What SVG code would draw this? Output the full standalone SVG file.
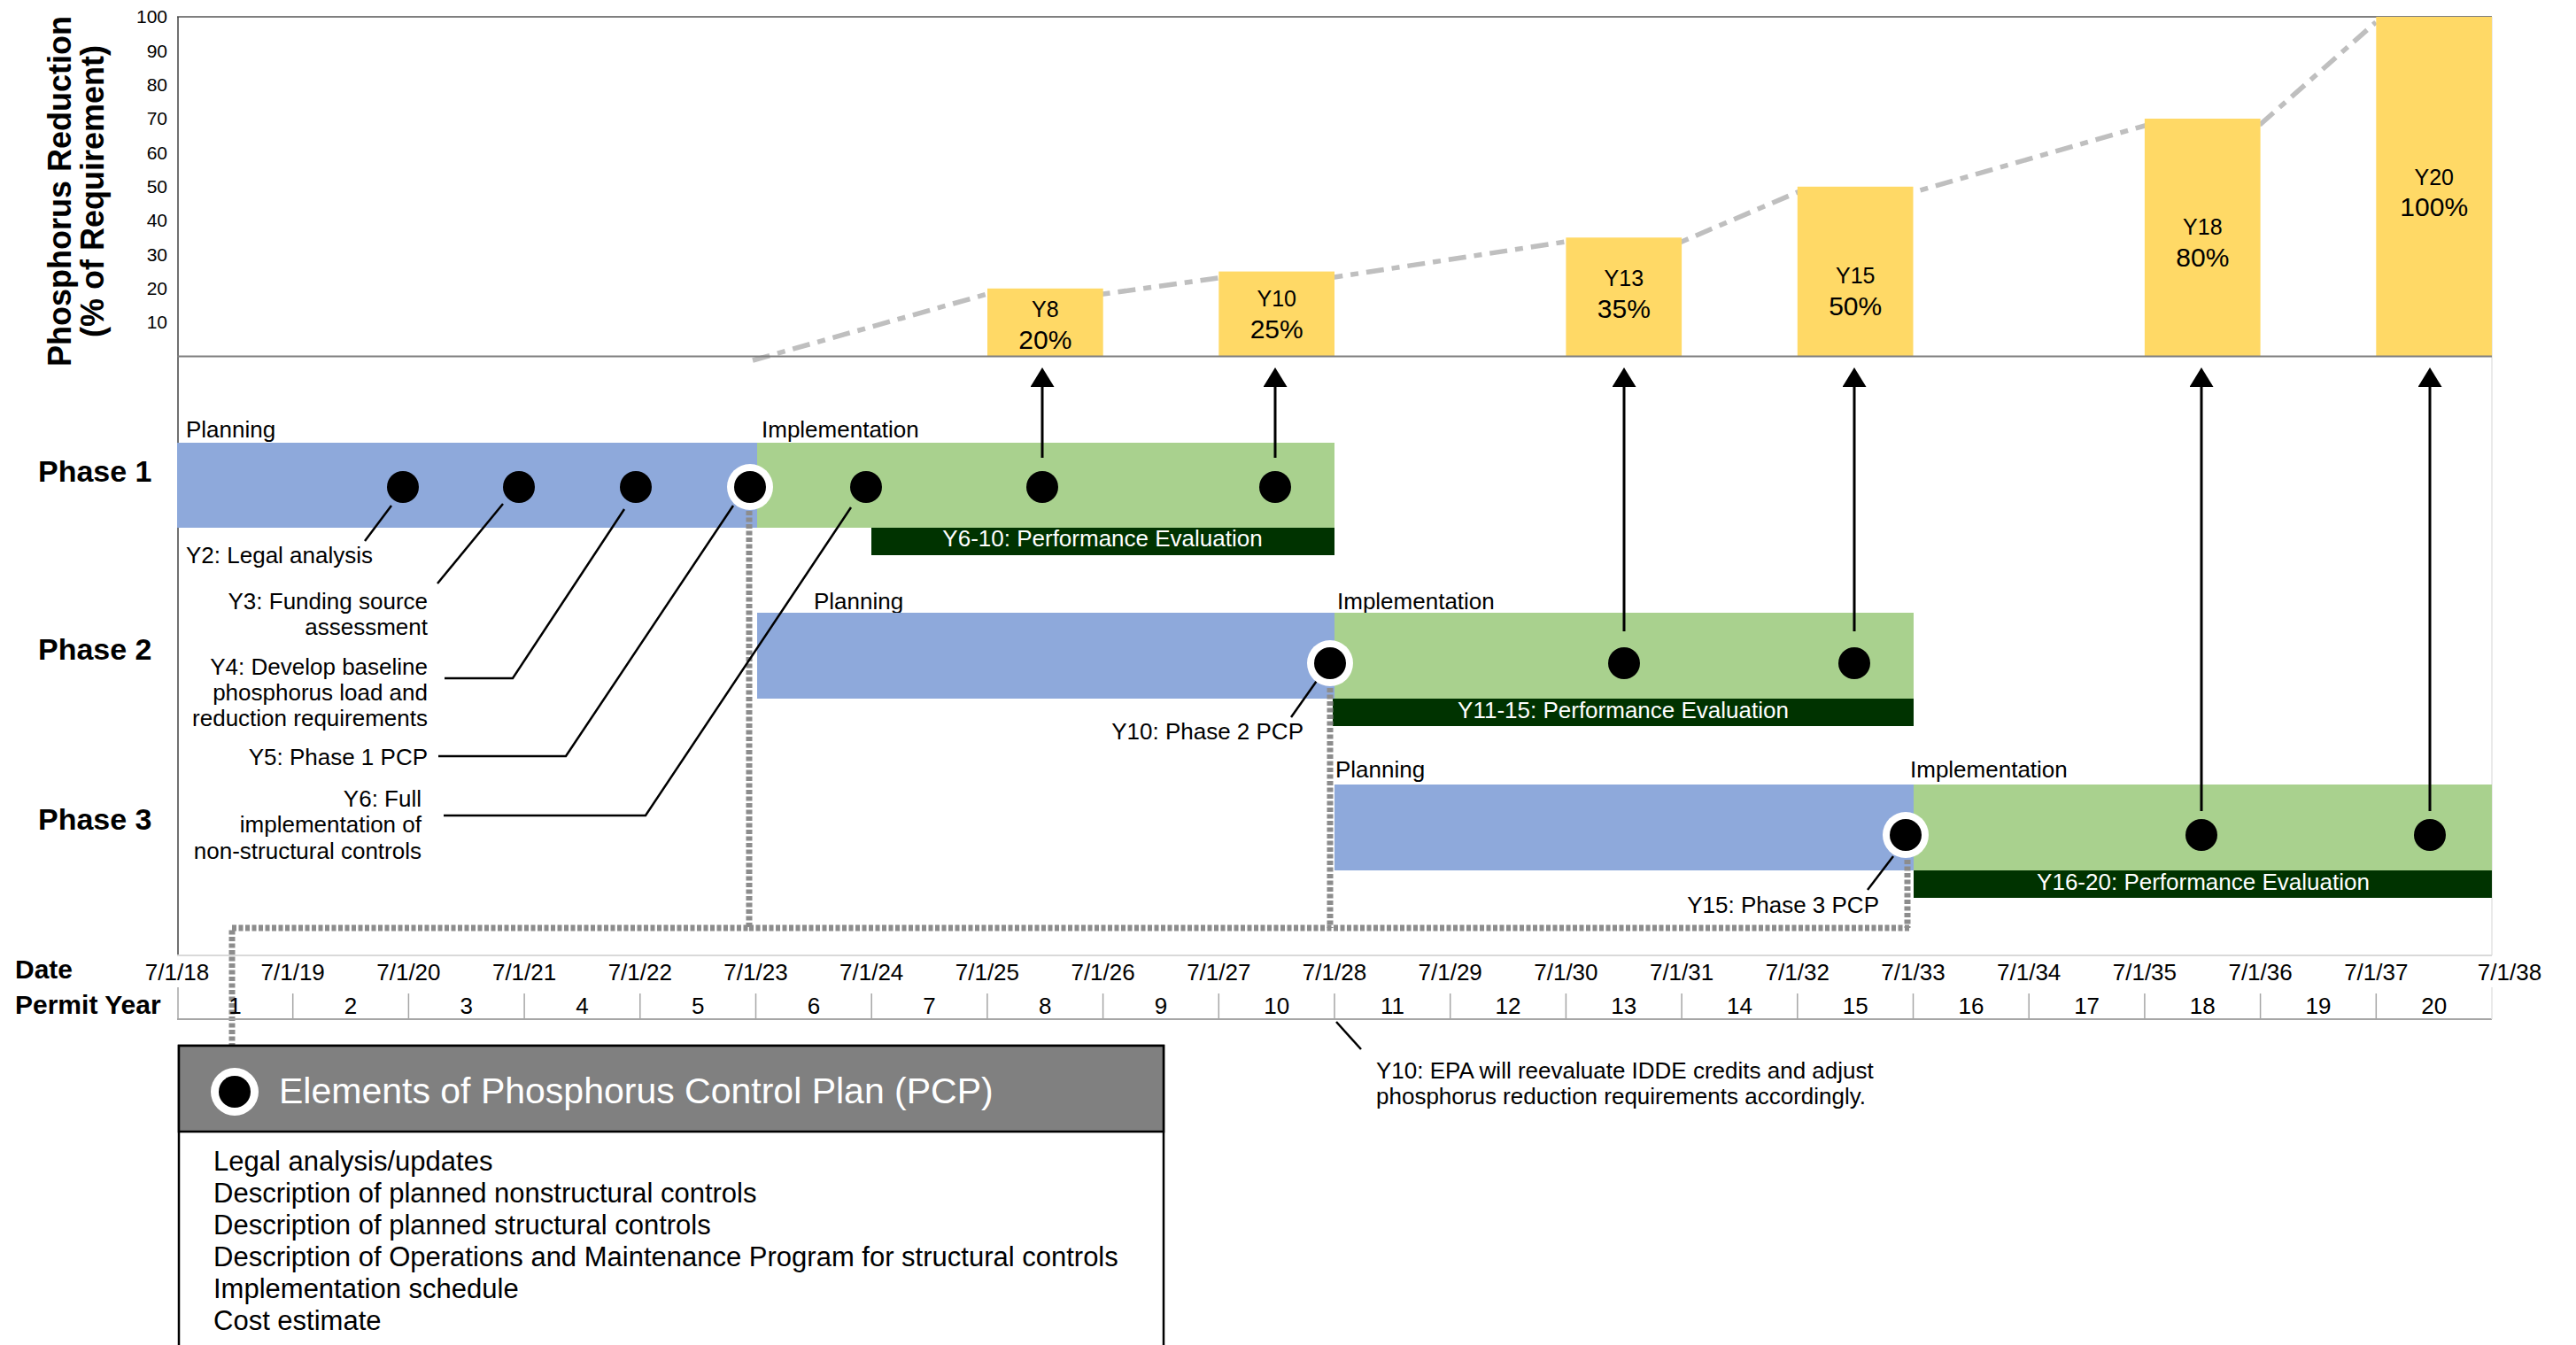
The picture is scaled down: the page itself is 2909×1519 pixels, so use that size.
<svg xmlns="http://www.w3.org/2000/svg" width="2909" height="1519" viewBox="0 0 2909 1519">
<style>
text{font-family:"Liberation Sans",Arial,sans-serif;fill:#000}
.t26{font-size:26px}
.bold{font-weight:bold}
.tick{font-size:21px;text-anchor:end}
.date{font-size:26px;text-anchor:middle}
.yr{font-size:26px;text-anchor:middle}
.ylab{font-size:25px;text-anchor:middle}
.pct{font-size:30px;text-anchor:middle}
.eval{font-size:26px;fill:#fff;text-anchor:middle}
.end{text-anchor:end}
.plan{fill:#8EA9DB}
.impl{fill:#A9D18E}
.ev{fill:#003300}
.bar{fill:#FFD966}
.dot{fill:#000}
.ring{fill:#fff}
.call{stroke:#000;stroke-width:2.5;fill:none}
.arr{stroke:#000;stroke-width:3;fill:none}
.guide{stroke:#8C8C8C;stroke-width:7;stroke-dasharray:5 2.5;fill:none}
.axis{stroke:#7F7F7F;stroke-width:2;fill:none}
.sep{stroke:#A6A6A6;stroke-width:1.5}
.item{font-size:31px}
</style>
<defs>
<marker id="ah" markerUnits="userSpaceOnUse" markerWidth="22" markerHeight="27" refX="0" refY="13.5" orient="auto"><path d="M0,0 L22,13.5 L0,27 z" fill="#000"/></marker>
</defs>

<g id="chart">
<polyline points="850,407 1115,332 1246,332 1376,314 1507,313 1768,273 1899,273 2030,217 2161,217 2422,142 2553,140 2683,25" fill="none" stroke="#BFBFBF" stroke-width="5.5" stroke-dasharray="20 9 9 9"/>
<line class="axis" x1="200" y1="19" x2="2814" y2="19"/>
<line x1="2814" y1="19" x2="2814" y2="1079" stroke="#E3E3E3" stroke-width="1.5"/>
<line x1="201" y1="19" x2="201" y2="1079" stroke="#404040" stroke-width="1.5"/>
<g id="ticks">
<text class="tick" x="189" y="26">100</text>
<text class="tick" x="189" y="64.5">90</text>
<text class="tick" x="189" y="103">80</text>
<text class="tick" x="189" y="141">70</text>
<text class="tick" x="189" y="179.5">60</text>
<text class="tick" x="189" y="218">50</text>
<text class="tick" x="189" y="256">40</text>
<text class="tick" x="189" y="294.5">30</text>
<text class="tick" x="189" y="333">20</text>
<text class="tick" x="189" y="371">10</text>
</g>
<g id="ytitle" transform="translate(80,216) rotate(-90)">
<text class="bold" style="font-size:36px;text-anchor:middle" x="0" y="0">Phosphorus Reduction</text>
<text class="bold" style="font-size:36px;text-anchor:middle" x="0" y="37">(% of Requirement)</text>
</g>
<g id="bar-y8"><rect class="bar" x="1115" y="325.8" width="130.7" height="76.7"/><text class="ylab" x="1180.3" y="358">Y8</text><text class="pct" x="1180.3" y="394">20%</text></g>
<g id="bar-y10"><rect class="bar" x="1376.3" y="306.6" width="130.7" height="95.9"/><text class="ylab" x="1441.7" y="346">Y10</text><text class="pct" x="1441.7" y="382">25%</text></g>
<g id="bar-y13"><rect class="bar" x="1768.4" y="268.3" width="130.7" height="134.2"/><text class="ylab" x="1833.8" y="323">Y13</text><text class="pct" x="1833.8" y="359">35%</text></g>
<g id="bar-y15"><rect class="bar" x="2029.8" y="210.8" width="130.7" height="191.7"/><text class="ylab" x="2095.2" y="320">Y15</text><text class="pct" x="2095.2" y="356">50%</text></g>
<g id="bar-y18"><rect class="bar" x="2421.9" y="134" width="130.7" height="268.5"/><text class="ylab" x="2487.3" y="265">Y18</text><text class="pct" x="2487.3" y="301">80%</text></g>
<g id="bar-y20"><rect class="bar" x="2683.3" y="19" width="130.7" height="383.5"/><text class="ylab" x="2748.7" y="209">Y20</text><text class="pct" x="2748.7" y="244">100%</text></g>
<line class="axis" x1="200" y1="402.5" x2="2814" y2="402.5"/>
</g>

<g id="phase1">
<text class="bold" style="font-size:34px" x="43" y="544">Phase 1</text>
<text class="t26" x="210" y="494">Planning</text>
<text class="t26" x="860" y="494">Implementation</text>
<rect class="plan" x="200" y="500" width="655" height="96"/>
<rect class="impl" x="855" y="500" width="652" height="96"/>
<rect class="ev" x="984" y="596" width="523" height="31"/>
<text class="eval" x="1245" y="617">Y6-10: Performance Evaluation</text>
</g>
<g id="phase2">
<text class="bold" style="font-size:34px" x="43" y="745">Phase 2</text>
<text class="t26" x="919" y="688">Planning</text>
<text class="t26" x="1510" y="688">Implementation</text>
<rect class="plan" x="855" y="692" width="652" height="97"/>
<rect class="impl" x="1507" y="692" width="654" height="97"/>
<rect class="ev" x="1505" y="789" width="656" height="31"/>
<text class="eval" x="1833" y="811">Y11-15: Performance Evaluation</text>
</g>
<g id="phase3">
<text class="bold" style="font-size:34px" x="43" y="937">Phase 3</text>
<text class="t26" x="1508" y="878">Planning</text>
<text class="t26" x="2157" y="878">Implementation</text>
<rect class="plan" x="1507" y="886" width="654" height="97"/>
<rect class="impl" x="2161" y="886" width="653" height="97"/>
<rect class="ev" x="2161" y="983" width="653" height="31"/>
<text class="eval" x="2488" y="1005">Y16-20: Performance Evaluation</text>
</g>

<g id="guides">
<polyline class="guide" points="846,577 846,1048 262,1048 262,1181"/>
<line class="guide" x1="1502" y1="777" x2="1502" y2="1048"/>
<line class="guide" x1="2154" y1="971" x2="2154" y2="1048"/>
<line class="guide" x1="846" y1="1048" x2="2157" y2="1048"/>
</g>

<g id="connectors">
<line class="arr" x1="1177" y1="517" x2="1177" y2="437" marker-end="url(#ah)"/>
<line class="arr" x1="1440" y1="517" x2="1440" y2="437" marker-end="url(#ah)"/>
<line class="arr" x1="1834" y1="713" x2="1834" y2="437" marker-end="url(#ah)"/>
<line class="arr" x1="2094" y1="713" x2="2094" y2="437" marker-end="url(#ah)"/>
<line class="arr" x1="2486" y1="916" x2="2486" y2="437" marker-end="url(#ah)"/>
<line class="arr" x1="2744" y1="916" x2="2744" y2="437" marker-end="url(#ah)"/>
<polyline class="call" points="442,571 412,611"/>
<polyline class="call" points="568,569 494,659"/>
<polyline class="call" points="705,575 579,766 502,766"/>
<polyline class="call" points="828,571 639,854 495,854"/>
<polyline class="call" points="961,573 729,921 501,921"/>
<polyline class="call" points="1489,766 1458,810"/>
<polyline class="call" points="2138,967 2109,1005"/>
<polyline class="call" points="1509,1154 1537,1185"/>
</g>

<g id="milestones">
<circle class="dot" cx="455" cy="550" r="18"/>
<circle class="dot" cx="586" cy="550" r="18"/>
<circle class="dot" cx="718" cy="550" r="18"/>
<circle class="ring" cx="847" cy="550" r="26"/><circle class="dot" cx="847" cy="550" r="18"/>
<circle class="dot" cx="978" cy="550" r="18"/>
<circle class="dot" cx="1177" cy="550" r="18"/>
<circle class="dot" cx="1440" cy="550" r="18"/>
<circle class="ring" cx="1502" cy="749" r="26"/><circle class="dot" cx="1502" cy="749" r="18"/>
<circle class="dot" cx="1834" cy="749" r="18"/>
<circle class="dot" cx="2094" cy="749" r="18"/>
<circle class="ring" cx="2152" cy="943" r="26"/><circle class="dot" cx="2152" cy="943" r="18"/>
<circle class="dot" cx="2486" cy="943" r="18"/>
<circle class="dot" cx="2744" cy="943" r="18"/>
</g>

<g id="callout-labels">
<text class="t26" x="210" y="636">Y2: Legal analysis</text>
<text class="t26 end" x="483" y="688">Y3: Funding source</text>
<text class="t26 end" x="483" y="717">assessment</text>
<text class="t26 end" x="483" y="762">Y4: Develop baseline</text>
<text class="t26 end" x="483" y="791">phosphorus load and</text>
<text class="t26 end" x="483" y="820">reduction requirements</text>
<text class="t26 end" x="483" y="864">Y5: Phase 1 PCP</text>
<text class="t26 end" x="476" y="911">Y6: Full</text>
<text class="t26 end" x="476" y="940">implementation of</text>
<text class="t26 end" x="476" y="970">non-structural controls</text>
<text class="t26 end" x="1472" y="835">Y10: Phase 2 PCP</text>
<text class="t26 end" x="2122" y="1031">Y15: Phase 3 PCP</text>
<text class="t26" x="1554" y="1218">Y10: EPA will reevaluate IDDE credits and adjust</text>
<text class="t26" x="1554" y="1247">phosphorus reduction requirements accordingly.</text>
</g>

<g id="timeline">
<text class="bold" style="font-size:30px" x="17" y="1105">Date</text>
<text class="bold" style="font-size:30px" x="17" y="1145">Permit Year</text>
<line x1="200" y1="1079" x2="2814" y2="1079" stroke="#D9D9D9" stroke-width="2"/>
<line x1="200" y1="1151" x2="2814" y2="1151" stroke="#A6A6A6" stroke-width="2"/>
<line x1="2814" y1="1115" x2="2814" y2="1151" stroke="#E3E3E3" stroke-width="1.5"/>
<g class="sep">
<line x1="201" y1="1115" x2="201" y2="1151"/>
<line x1="330.7" y1="1122" x2="330.7" y2="1151"/>
<line x1="461.4" y1="1122" x2="461.4" y2="1151"/>
<line x1="592.1" y1="1122" x2="592.1" y2="1151"/>
<line x1="722.8" y1="1122" x2="722.8" y2="1151"/>
<line x1="853.5" y1="1122" x2="853.5" y2="1151"/>
<line x1="984.2" y1="1122" x2="984.2" y2="1151"/>
<line x1="1114.9" y1="1122" x2="1114.9" y2="1151"/>
<line x1="1245.6" y1="1122" x2="1245.6" y2="1151"/>
<line x1="1376.3" y1="1122" x2="1376.3" y2="1151"/>
<line x1="1507" y1="1122" x2="1507" y2="1151"/>
<line x1="1637.7" y1="1122" x2="1637.7" y2="1151"/>
<line x1="1768.4" y1="1122" x2="1768.4" y2="1151"/>
<line x1="1899.1" y1="1122" x2="1899.1" y2="1151"/>
<line x1="2029.8" y1="1122" x2="2029.8" y2="1151"/>
<line x1="2160.5" y1="1122" x2="2160.5" y2="1151"/>
<line x1="2291.2" y1="1122" x2="2291.2" y2="1151"/>
<line x1="2421.9" y1="1122" x2="2421.9" y2="1151"/>
<line x1="2552.6" y1="1122" x2="2552.6" y2="1151"/>
<line x1="2683.3" y1="1122" x2="2683.3" y2="1151"/>
</g>
<text class="date" x="200" y="1107">7/1/18</text>
<text class="date" x="330.7" y="1107">7/1/19</text>
<text class="date" x="461.4" y="1107">7/1/20</text>
<text class="date" x="592.1" y="1107">7/1/21</text>
<text class="date" x="722.8" y="1107">7/1/22</text>
<text class="date" x="853.5" y="1107">7/1/23</text>
<text class="date" x="984.2" y="1107">7/1/24</text>
<text class="date" x="1114.9" y="1107">7/1/25</text>
<text class="date" x="1245.6" y="1107">7/1/26</text>
<text class="date" x="1376.3" y="1107">7/1/27</text>
<text class="date" x="1507" y="1107">7/1/28</text>
<text class="date" x="1637.7" y="1107">7/1/29</text>
<text class="date" x="1768.4" y="1107">7/1/30</text>
<text class="date" x="1899.1" y="1107">7/1/31</text>
<text class="date" x="2029.8" y="1107">7/1/32</text>
<text class="date" x="2160.5" y="1107">7/1/33</text>
<text class="date" x="2291.2" y="1107">7/1/34</text>
<text class="date" x="2421.9" y="1107">7/1/35</text>
<text class="date" x="2552.6" y="1107">7/1/36</text>
<text class="date" x="2683.3" y="1107">7/1/37</text>
<text class="date" x="2834" y="1107">7/1/38</text>
<text class="yr" x="265.4" y="1145">1</text>
<text class="yr" x="396" y="1145">2</text>
<text class="yr" x="526.8" y="1145">3</text>
<text class="yr" x="657.5" y="1145">4</text>
<text class="yr" x="788.2" y="1145">5</text>
<text class="yr" x="918.9" y="1145">6</text>
<text class="yr" x="1049.6" y="1145">7</text>
<text class="yr" x="1180.3" y="1145">8</text>
<text class="yr" x="1311" y="1145">9</text>
<text class="yr" x="1441.7" y="1145">10</text>
<text class="yr" x="1572.4" y="1145">11</text>
<text class="yr" x="1703" y="1145">12</text>
<text class="yr" x="1833.8" y="1145">13</text>
<text class="yr" x="1964.5" y="1145">14</text>
<text class="yr" x="2095.2" y="1145">15</text>
<text class="yr" x="2225.9" y="1145">16</text>
<text class="yr" x="2356.6" y="1145">17</text>
<text class="yr" x="2487.3" y="1145">18</text>
<text class="yr" x="2618" y="1145">19</text>
<text class="yr" x="2748.7" y="1145">20</text>
</g>

<g id="legend">
<rect x="202" y="1181" width="1112" height="400" fill="#fff" stroke="#000" stroke-width="2.5"/>
<rect x="202" y="1181" width="1112" height="97" fill="#808080" stroke="#000" stroke-width="2.5"/>
<circle class="ring" cx="265" cy="1233" r="27"/><circle class="dot" cx="265" cy="1233" r="18"/>
<text x="315" y="1246" style="font-size:41px;fill:#fff">Elements of Phosphorus Control Plan (PCP)</text>
<text class="item" x="241" y="1322">Legal analysis/updates</text>
<text class="item" x="241" y="1358">Description of planned nonstructural controls</text>
<text class="item" x="241" y="1394">Description of planned structural controls</text>
<text class="item" x="241" y="1430">Description of Operations and Maintenance Program for structural controls</text>
<text class="item" x="241" y="1466">Implementation schedule</text>
<text class="item" x="241" y="1502">Cost estimate</text>
</g>
</svg>
